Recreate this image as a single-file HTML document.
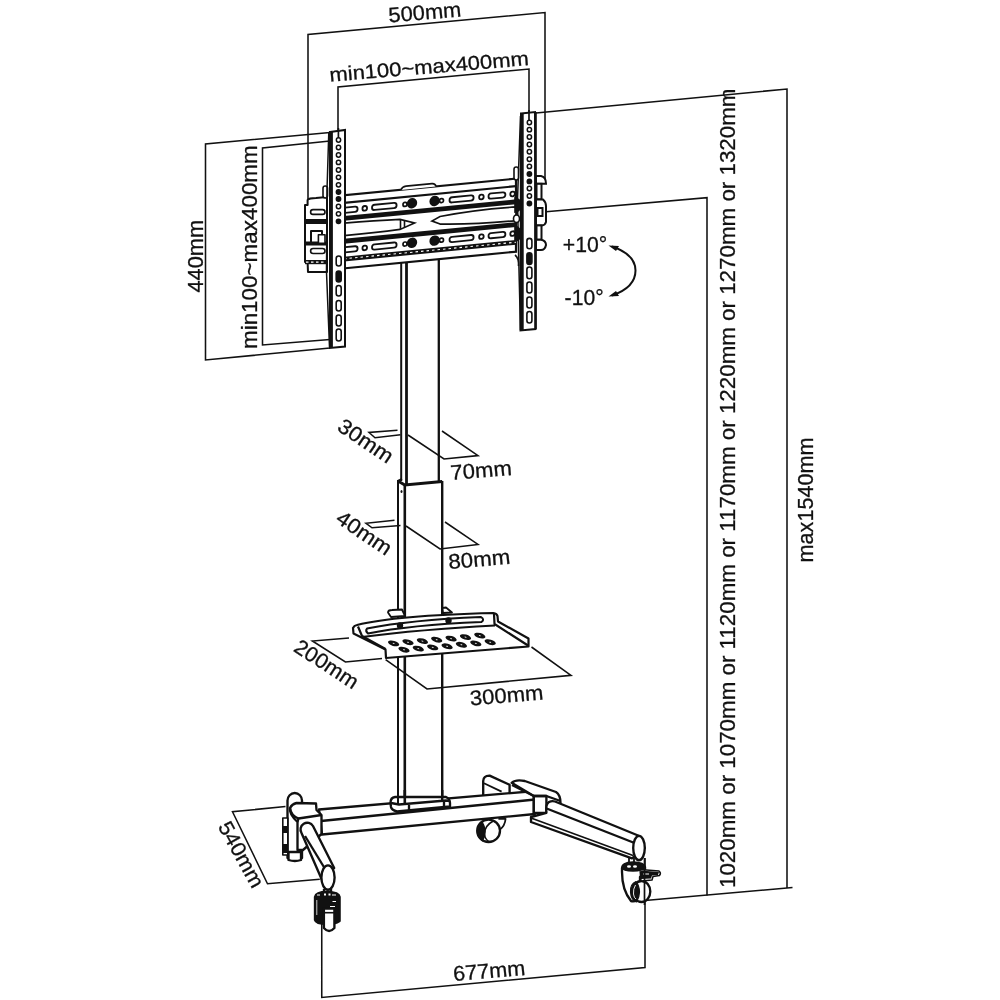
<!DOCTYPE html>
<html><head><meta charset="utf-8">
<style>
html,body{margin:0;padding:0;background:#fff;width:1000px;height:1000px;overflow:hidden}
svg{display:block;will-change:transform}
text{font-family:"Liberation Sans",sans-serif}
</style></head><body>
<svg width="1000" height="1000" viewBox="0 0 1000 1000">
<rect width="1000" height="1000" fill="#fff"/>
<g fill="none" stroke="#111" stroke-width="1.55" stroke-linejoin="miter">
<polyline points="308,205 308,34.5 545,12.5 545,180"/>
<polyline points="338,130 338,87 529,69 529,118"/>
<polyline points="330,132.5 205.5,144 205.5,360 330,348"/>
<polyline points="330,141 262.5,148 262.5,345 330,339.5"/>
<polyline points="536,113 787,89 787,888"/>
<polyline points="546,211.7 707,197.7 707,895.5"/>
<polyline points="645,900.5 792.5,887.5"/>
<polyline points="321.75,922 321.75,997.5 645,967.5 645,858"/>
<polyline points="285.5,806.5 232.5,811.75 267.5,883.75 319.8,879.25"/>
<polyline points="397.5,430.25 369,432.5 375,437.75 400.5,434.75"/>
<polyline points="408,435 444,459 478,455.6 442,431"/>
<polyline points="394.5,520.25 366,523.25 372,527.75 400.5,525.5"/>
<polyline points="406,526 440,549 478,544.4 445,522"/>
<polyline points="349,638 312.4,641 345.4,662 382,658.4"/>
<polyline points="385.6,659.6 427,689 571,675.3 531.5,647"/>
</g>
<g fill="none" stroke="#111" stroke-linecap="butt">
<line x1="401.2" y1="250" x2="401.2" y2="481" stroke-width="2"/>
<line x1="406.5" y1="250" x2="406.5" y2="484" stroke-width="2.8"/>
<line x1="438.8" y1="250" x2="438.8" y2="482" stroke-width="2.3"/>
<line x1="398" y1="480" x2="398" y2="801" stroke-width="2"/>
<line x1="404.8" y1="484" x2="404.8" y2="800" stroke-width="2.6"/>
<line x1="442.2" y1="481" x2="442.2" y2="798" stroke-width="2.4"/>
<polyline points="398,481 404.8,485 442.2,481.5" stroke-width="3"/>
<line x1="398" y1="481" x2="402" y2="479" stroke-width="2"/>
</g>
<ellipse cx="401.5" cy="491.5" rx="1" ry="1.6" fill="#111"/>
<g fill="#fff" stroke="#111" stroke-width="2.35" stroke-linejoin="round">
<path d="M483.2,797 L483.2,781 Q483.5,775.5 489.6,775.6 L509.6,784.8 L509.6,797 Z"/>
<path d="M484,783.2 L501.6,791.6" fill="none" stroke-width="1.8"/>
<path d="M319,809.5 L535,791 L535,814 L322,834.5 Z"/>
<line x1="321" y1="821" x2="535" y2="799.5"/>
<path d="M390.5,803 Q390.5,797.5 395,797 L446,797 Q450,799 450,803 L450,806.5 L397,811.5 Q391.5,810 391,807 Z"/>
<polyline points="391,803 399,804.5 446,800.5 450,801" fill="none"/>
<line x1="409" y1="805" x2="409" y2="812"/>
<line x1="444" y1="800.5" x2="444" y2="808"/>
<line x1="398" y1="790" x2="398" y2="804" stroke-width="2"/>
<line x1="404.8" y1="790" x2="404.8" y2="804" stroke-width="2.6"/>
<line x1="442.2" y1="790" x2="442.2" y2="800.5" stroke-width="2.4"/>
<path d="M498.4,818.8 L505.6,818.8 Q505,826 499.5,830" fill="none" stroke-width="1.8"/>
<ellipse cx="488.6" cy="830.8" rx="11.4" ry="11.2"/>
<path d="M482,822 Q478.5,825 478.5,832 Q479,839 482.5,841 Q485,837 485,831.5 Q485,826 482,822 Z" fill="#111" stroke-width="1.2"/>
<path d="M494,820.5 Q484,826 484.5,834 Q485,840 490,842" fill="none" stroke-width="1.6"/>
<path d="M511.6,782.8 Q516,779 524.8,781 L556,792 Q560.5,795 560.5,803 L546.4,810 L546.4,812.8 L533.8,812.8 L533.8,796 Z"/>
<rect x="533.8" y="796" width="12.6" height="16.8"/>
<path d="M512,785 L533.8,796 L546.4,796 L560.5,801" fill="none"/>
<path d="M546.4,812 Q545.5,804 549,802 Q552,800.5 555,801.5 L638.7,835.75 L644.6,848 L632,858.3 L531,822 L531,817 L546.4,812.8 Z"/>
<line x1="546.6" y1="808.5" x2="633.3" y2="842.5"/>
<line x1="531" y1="818" x2="633" y2="855.5" stroke-width="1.8"/>
<ellipse cx="639" cy="848" rx="5.8" ry="12.2"/>
<line x1="629" y1="858" x2="629" y2="866" stroke-width="1.8"/>
<line x1="634" y1="858" x2="634" y2="866" stroke-width="1.8"/>
<path d="M622,868 Q622,863 633,862.5 Q644,863 645,867 L645,873 L640,877 L640,897 Q636,902.5 631,901 Q622,890 622,872 Z"/>
<path d="M622,867.5 Q623,863 633,863 Q643,863 644.5,867 Q643,871 633,871 Q623,871 622,867.5 Z" fill="#111" stroke-width="1.5"/>
<ellipse cx="629" cy="866.5" rx="2" ry="1.3" fill="#fff" stroke="none"/>
<ellipse cx="635" cy="866.5" rx="2" ry="1.3" fill="#fff" stroke="none"/>
<ellipse cx="641.5" cy="891.5" rx="8.8" ry="10.5"/>
<path d="M636,881.5 Q630,884 630.5,892 Q631,900 636.5,902 Q639.5,897 639.5,892 Q639.5,886 636,881.5 Z" fill="#111" stroke-width="1.2"/>
<path d="M635.5,885 Q633,889 633.5,894 Q634,898 636,899" fill="none" stroke="#fff" stroke-width="0.9"/>
<path d="M640,869.5 L659,871 Q661.5,873 659.5,875.5 L653,876.5 L652,880 L641,881 Z" fill="#fff" stroke-width="1.5"/>
<path d="M641,870.5 L659,872 L658,875 L652,875.5 L651,878.5 L641,879 Z" fill="#111" stroke="none"/>
<rect x="643" y="873.5" width="6" height="1" fill="#fff" stroke="none"/>
<line x1="644.5" y1="858" x2="644.5" y2="905" stroke-width="1.7"/>
<path d="M287.5,858 L287.5,800.5 A7.25,7.5 0 0 1 302,800.5 L302,858 Q295,862 287.5,858 Z"/>
<path d="M296.5,803 L316,803.5 L316.5,810 L321.5,815 L321.5,834 L303,850 L297.5,850 L297.5,822 Q289,814 290,808 Q292,804 296.5,803 Z"/>
<path d="M297.5,822 L298.5,818.5 L321.5,815" fill="none"/>
<path d="M290,808 Q291,816 298.5,818.5" fill="none"/>
<path d="M288.5,852 L301,852 L301,860 Q295,862 288.5,860 Z"/>
<rect x="282.8" y="818" width="5" height="37" fill="#fff" stroke-width="1.6"/>
<rect x="282" y="826" width="6" height="7" fill="#111" stroke="none"/>
<rect x="282" y="844" width="6" height="9" fill="#111" stroke="none"/>
<path d="M301.5,833 A6.3,6.3 0 0 1 313,826 L334.2,868 L322,880 Z"/>
<line x1="305" y1="836" x2="324.5" y2="868"/>
<ellipse cx="328" cy="877.5" rx="6.6" ry="12.2"/>
<path d="M315,897 Q316,892 327,892 Q339,892 339.6,897 L339.6,921 Q335,924 327,924 Q316,924 315,920 Z" fill="#111"/>
<path d="M323.9,908.5 L334.4,908.5 L334.4,928 Q329,934 323.9,928 Z" fill="#fff"/>
<line x1="324" y1="912.7" x2="334.4" y2="912.7" stroke-width="1.6"/>
<rect x="324" y="893.5" width="2" height="2" fill="#fff" stroke="none"/>
<rect x="328.5" y="893.5" width="2" height="2" fill="#fff" stroke="none"/>
<rect x="317" y="894.5" width="3" height="1" fill="#fff" stroke="none"/>
<rect x="332" y="894.5" width="4" height="1" fill="#fff" stroke="none"/>
<rect x="332.5" y="901" width="3.5" height="1" fill="#fff" stroke="none"/>
<rect x="330" y="906" width="5" height="1" fill="#fff" stroke="none"/>
<line x1="316.8" y1="900" x2="316.8" y2="915" stroke="#fff" stroke-width="0.8"/>
<line x1="324" y1="889" x2="324" y2="893"/>
<line x1="331" y1="889" x2="331" y2="893"/>
</g>
<g fill="#fff" stroke="#111" stroke-width="2.2" stroke-linejoin="round">
<path d="M388,612.5 Q388,610 392,610 L402,609.5 L405,616 L391,617 Z" stroke-width="1.8"/>
<path d="M442.5,608 L446,607.5 L452,612.5 L443,613 Z" stroke-width="1.8"/>
<path d="M353,628 Q354,625.5 357,625 Q395,615.5 493.3,613 Q497,613.5 497.5,616 L498,621.5 L528.5,638.5 L528.5,646.5 L386,658 L385.5,649.5 L353.5,633.5 Z"/>
<path d="M358,626.5 L362,636 L385.5,649" fill="none"/>
<path d="M362,637 Q420,629.5 495,625.5" fill="none"/>
<path d="M494,614 L494.5,624 L528,645.5" fill="none"/>
<path d="M367,628.5 Q410,620 481,617 Q485,619.5 481.5,622 Q410,625 368,633.5 Q365,631 367,628.5 Z" fill="none" stroke-width="2"/>
</g>
<circle cx="400" cy="625.5" r="3.2" fill="#111"/>
<circle cx="448.5" cy="620.5" r="3.2" fill="#111"/>
<ellipse cx="393.6" cy="643.4" rx="5.8" ry="2.6" transform="rotate(16 393.6 643.4)" fill="#111"/>
<ellipse cx="393.6" cy="643.4" rx="1.0" ry="0.45" transform="rotate(17 393.6 643.4)" fill="#fff"/>
<ellipse cx="408" cy="642.2" rx="5.8" ry="2.6" transform="rotate(16 408 642.2)" fill="#111"/>
<ellipse cx="408" cy="642.2" rx="1.0" ry="0.45" transform="rotate(17 408 642.2)" fill="#fff"/>
<ellipse cx="422.4" cy="641.1" rx="5.8" ry="2.6" transform="rotate(16 422.4 641.1)" fill="#111"/>
<ellipse cx="422.4" cy="641.1" rx="1.0" ry="0.45" transform="rotate(17 422.4 641.1)" fill="#fff"/>
<ellipse cx="436.7" cy="639.7" rx="5.8" ry="2.6" transform="rotate(16 436.7 639.7)" fill="#111"/>
<ellipse cx="436.7" cy="639.7" rx="1.0" ry="0.45" transform="rotate(17 436.7 639.7)" fill="#fff"/>
<ellipse cx="451.1" cy="638.6" rx="5.8" ry="2.6" transform="rotate(16 451.1 638.6)" fill="#111"/>
<ellipse cx="451.1" cy="638.6" rx="1.0" ry="0.45" transform="rotate(17 451.1 638.6)" fill="#fff"/>
<ellipse cx="465.5" cy="637.1" rx="5.8" ry="2.6" transform="rotate(16 465.5 637.1)" fill="#111"/>
<ellipse cx="465.5" cy="637.1" rx="1.0" ry="0.45" transform="rotate(17 465.5 637.1)" fill="#fff"/>
<ellipse cx="479.8" cy="635.6" rx="5.8" ry="2.6" transform="rotate(16 479.8 635.6)" fill="#111"/>
<ellipse cx="479.8" cy="635.6" rx="1.0" ry="0.45" transform="rotate(17 479.8 635.6)" fill="#fff"/>
<ellipse cx="404" cy="649.7" rx="5.8" ry="2.6" transform="rotate(16 404 649.7)" fill="#111"/>
<ellipse cx="404" cy="649.7" rx="1.0" ry="0.45" transform="rotate(17 404 649.7)" fill="#fff"/>
<ellipse cx="418.3" cy="648.6" rx="5.8" ry="2.6" transform="rotate(16 418.3 648.6)" fill="#111"/>
<ellipse cx="418.3" cy="648.6" rx="1.0" ry="0.45" transform="rotate(17 418.3 648.6)" fill="#fff"/>
<ellipse cx="432.7" cy="647.4" rx="5.8" ry="2.6" transform="rotate(16 432.7 647.4)" fill="#111"/>
<ellipse cx="432.7" cy="647.4" rx="1.0" ry="0.45" transform="rotate(17 432.7 647.4)" fill="#fff"/>
<ellipse cx="447.1" cy="646.3" rx="5.8" ry="2.6" transform="rotate(16 447.1 646.3)" fill="#111"/>
<ellipse cx="447.1" cy="646.3" rx="1.0" ry="0.45" transform="rotate(17 447.1 646.3)" fill="#fff"/>
<ellipse cx="461.4" cy="644.8" rx="5.8" ry="2.6" transform="rotate(16 461.4 644.8)" fill="#111"/>
<ellipse cx="461.4" cy="644.8" rx="1.0" ry="0.45" transform="rotate(17 461.4 644.8)" fill="#fff"/>
<ellipse cx="475.8" cy="643.4" rx="5.8" ry="2.6" transform="rotate(16 475.8 643.4)" fill="#111"/>
<ellipse cx="475.8" cy="643.4" rx="1.0" ry="0.45" transform="rotate(17 475.8 643.4)" fill="#fff"/>
<ellipse cx="490.2" cy="642.2" rx="5.8" ry="2.6" transform="rotate(16 490.2 642.2)" fill="#111"/>
<ellipse cx="490.2" cy="642.2" rx="1.0" ry="0.45" transform="rotate(17 490.2 642.2)" fill="#fff"/>
<g fill="#fff" stroke="#111" stroke-width="2" stroke-linejoin="round">
<path d="M305,205 L307.6,205 L307.6,200 Q309,198 316,198 L327,197 L327,272 L308,272 L307.6,262 L305,262 Z"/>
<rect x="310.6" y="209.6" width="14.4" height="4.8" rx="2.4" stroke-width="1.6"/>
<rect x="310.6" y="248.5" width="14.4" height="5" rx="2.5" stroke-width="1.6"/>
<rect x="305" y="219" width="22" height="5" fill="#111" stroke="none"/>
<rect x="305" y="241.5" width="22" height="4" fill="#111" stroke="none"/>
<path d="M311,231 L322,231 L322,243 L311,243 Z" fill="none"/>
<rect x="318.4" y="234.8" width="6.6" height="8.4" fill="#fff" stroke-width="1.6"/>
<rect x="305" y="260" width="22" height="4.2" fill="#111" stroke="none"/>
<line x1="306" y1="262.1" x2="327" y2="262.1" stroke="#fff" stroke-dasharray="2.5,2.5" stroke-width="1.1"/>
<rect x="323" y="186" width="4.5" height="12" rx="2.2" stroke-width="1.6"/>
</g>
<g transform="translate(0,34.2) skewY(-5.54)">
<g fill="#fff" stroke="#111" stroke-width="2.2">
<rect x="344" y="194.5" width="172" height="73"/>
</g>
<g fill="none" stroke="#111" stroke-width="2.2">
<line x1="344" y1="202" x2="516" y2="202"/>
</g>
<rect x="344" y="255.8" width="172" height="4.8" fill="#111"/>
<line x1="344" y1="258" x2="516" y2="258" stroke="#fff" stroke-width="1.1" stroke-dasharray="2.5,3"/>
<rect x="344" y="215.2" width="172" height="4.8" fill="#111"/>
<rect x="344" y="238" width="172" height="4.8" fill="#111"/>
<path d="M344,222.3 Q375,222.8 400,224 L414.5,229 L400,234 Q375,235.2 344,234.7 Z" fill="#fff" stroke="#111" stroke-width="1.7"/>
<line x1="400.5" y1="224.5" x2="400.5" y2="233.5" stroke="#111" stroke-width="1.6"/>
<line x1="404.5" y1="225.5" x2="404.5" y2="232.5" stroke="#111" stroke-width="1.6"/>
<path d="M516,222.8 Q475,221.5 440,225 L432,228.8 L440,232.5 Q475,236.5 516,236.5 Z" fill="#fff" stroke="#111" stroke-width="1.7"/>
<rect x="340" y="206.9" width="17.600000000000023" height="5.2" rx="2.6" fill="#fff" stroke="#111" stroke-width="1.8"/>
<rect x="372" y="206.9" width="24.600000000000023" height="5.2" rx="2.6" fill="#fff" stroke="#111" stroke-width="1.8"/>
<rect x="449.5" y="206.9" width="24.100000000000023" height="5.2" rx="2.6" fill="#fff" stroke="#111" stroke-width="1.8"/>
<rect x="488.5" y="206.9" width="16.899999999999977" height="5.2" rx="2.6" fill="#fff" stroke="#111" stroke-width="1.8"/>
<circle cx="364.75" cy="209.5" r="2.3" fill="#fff" stroke="#111" stroke-width="1.8"/>
<circle cx="481.4" cy="209.5" r="2.3" fill="#fff" stroke="#111" stroke-width="1.8"/>
<circle cx="512.6" cy="209.5" r="2.3" fill="#fff" stroke="#111" stroke-width="1.8"/>
<circle cx="405" cy="209.5" r="2" fill="#fff" stroke="#111" stroke-width="1.7"/>
<circle cx="441.5" cy="209.2" r="2" fill="#fff" stroke="#111" stroke-width="1.7"/>
<circle cx="412" cy="209.0" r="5.2" fill="#111"/>
<circle cx="434.6" cy="209.0" r="5.2" fill="#111"/>
<rect x="340" y="246.5" width="17.600000000000023" height="5.2" rx="2.6" fill="#fff" stroke="#111" stroke-width="1.8"/>
<rect x="372" y="246.5" width="24.600000000000023" height="5.2" rx="2.6" fill="#fff" stroke="#111" stroke-width="1.8"/>
<rect x="449.5" y="246.5" width="24.100000000000023" height="5.2" rx="2.6" fill="#fff" stroke="#111" stroke-width="1.8"/>
<rect x="488.5" y="246.5" width="16.899999999999977" height="5.2" rx="2.6" fill="#fff" stroke="#111" stroke-width="1.8"/>
<circle cx="364.75" cy="249.1" r="2.3" fill="#fff" stroke="#111" stroke-width="1.8"/>
<circle cx="481.4" cy="249.1" r="2.3" fill="#fff" stroke="#111" stroke-width="1.8"/>
<circle cx="512.6" cy="249.1" r="2.3" fill="#fff" stroke="#111" stroke-width="1.8"/>
<circle cx="405" cy="249.1" r="2" fill="#fff" stroke="#111" stroke-width="1.7"/>
<circle cx="441.5" cy="248.79999999999998" r="2" fill="#fff" stroke="#111" stroke-width="1.7"/>
<circle cx="412" cy="248.6" r="5.2" fill="#111"/>
<circle cx="434.6" cy="248.6" r="5.2" fill="#111"/>
<path d="M401,194.6 Q402,191.5 406,191.3 L432,191.3 Q435.5,191.5 436,194.6" fill="#fff" stroke="#111" stroke-width="1.6"/>
</g>
<g fill="#fff" stroke="#111" stroke-width="2" stroke-linejoin="miter">
<path d="M328.8,132 L327,190 L326.5,272 L329.5,347" fill="none" stroke-width="1.5"/>
<path d="M330,132 L345,130 L345,346.5 L330,348 Z"/>
</g>
<line x1="331.3" y1="132" x2="331.3" y2="348" stroke="#111" stroke-width="3.2"/>
<circle cx="338.5" cy="140" r="2.15" fill="#fff" stroke="#111" stroke-width="1.5"/>
<circle cx="338.5" cy="147.5" r="2.15" fill="#fff" stroke="#111" stroke-width="1.5"/>
<circle cx="338.5" cy="155" r="2.15" fill="#fff" stroke="#111" stroke-width="1.5"/>
<circle cx="338.5" cy="162.4" r="2.15" fill="#fff" stroke="#111" stroke-width="1.5"/>
<circle cx="338.5" cy="170" r="2.15" fill="#fff" stroke="#111" stroke-width="1.5"/>
<circle cx="338.5" cy="177.3" r="2.15" fill="#fff" stroke="#111" stroke-width="1.5"/>
<circle cx="338.5" cy="184.8" r="2.15" fill="#fff" stroke="#111" stroke-width="1.5"/>
<circle cx="338.5" cy="192" r="2.15" fill="#111" stroke="#111" stroke-width="1.5"/>
<circle cx="338.5" cy="199" r="2.15" fill="#111" stroke="#111" stroke-width="1.5"/>
<circle cx="338.5" cy="206.5" r="2.15" fill="#fff" stroke="#111" stroke-width="1.5"/>
<circle cx="338.5" cy="213.8" r="2.15" fill="#fff" stroke="#111" stroke-width="1.5"/>
<circle cx="338.5" cy="221.3" r="2.15" fill="#111" stroke="#111" stroke-width="1.5"/>
<rect x="336.2" y="256" width="5" height="10" rx="2.5" fill="#fff" stroke="#111" stroke-width="1.6"/>
<rect x="336.2" y="271" width="5" height="11" rx="2.5" fill="#111" stroke="#111" stroke-width="1.6"/>
<rect x="336.2" y="285.5" width="5" height="10.5" rx="2.5" fill="#fff" stroke="#111" stroke-width="1.6"/>
<rect x="336.2" y="300.5" width="5" height="10.5" rx="2.5" fill="#fff" stroke="#111" stroke-width="1.6"/>
<rect x="336.2" y="315" width="5" height="11" rx="2.5" fill="#fff" stroke="#111" stroke-width="1.6"/>
<rect x="336.2" y="329" width="5" height="12" rx="2.5" fill="#fff" stroke="#111" stroke-width="1.6"/>
<g fill="#fff" stroke="#111" stroke-width="2" stroke-linejoin="miter">
<path d="M520.5,116 L517.5,200 L518.5,250 L520.5,330" fill="none" stroke-width="1.5"/>
<path d="M521,113.5 L535,112 L535.5,329 L520.5,330.5 Z"/>
</g>
<line x1="522" y1="113.5" x2="522" y2="330.5" stroke="#111" stroke-width="3.4"/>
<line x1="535.6" y1="112" x2="535.6" y2="329" stroke="#111" stroke-width="2.4"/>
<circle cx="529.4" cy="122.5" r="2.15" fill="#fff" stroke="#111" stroke-width="1.5"/>
<circle cx="529.4" cy="129.7" r="2.15" fill="#fff" stroke="#111" stroke-width="1.5"/>
<circle cx="529.4" cy="137" r="2.15" fill="#fff" stroke="#111" stroke-width="1.5"/>
<circle cx="529.4" cy="144.5" r="2.15" fill="#fff" stroke="#111" stroke-width="1.5"/>
<circle cx="529.4" cy="151.75" r="2.15" fill="#fff" stroke="#111" stroke-width="1.5"/>
<circle cx="529.4" cy="159.25" r="2.15" fill="#fff" stroke="#111" stroke-width="1.5"/>
<circle cx="529.4" cy="166.4" r="2.15" fill="#fff" stroke="#111" stroke-width="1.5"/>
<circle cx="529.4" cy="174" r="2.15" fill="#111" stroke="#111" stroke-width="1.5"/>
<circle cx="529.4" cy="181.4" r="2.15" fill="#111" stroke="#111" stroke-width="1.5"/>
<circle cx="529.4" cy="188.5" r="2.15" fill="#fff" stroke="#111" stroke-width="1.5"/>
<circle cx="529.4" cy="196" r="2.15" fill="#fff" stroke="#111" stroke-width="1.5"/>
<circle cx="529.4" cy="203.5" r="2.15" fill="#111" stroke="#111" stroke-width="1.5"/>
<rect x="526.9" y="238.4" width="5" height="10.400000000000006" rx="2.5" fill="#fff" stroke="#111" stroke-width="1.6"/>
<rect x="526.9" y="252.7" width="5" height="11.699999999999989" rx="2.5" fill="#111" stroke="#111" stroke-width="1.6"/>
<rect x="526.9" y="267" width="5" height="11.699999999999989" rx="2.5" fill="#fff" stroke="#111" stroke-width="1.6"/>
<rect x="526.9" y="282" width="5" height="11" rx="2.5" fill="#fff" stroke="#111" stroke-width="1.6"/>
<rect x="526.9" y="297" width="5" height="11" rx="2.5" fill="#fff" stroke="#111" stroke-width="1.6"/>
<rect x="526.9" y="311.5" width="5" height="11.5" rx="2.5" fill="#fff" stroke="#111" stroke-width="1.6"/>
<line x1="338.4" y1="128" x2="338.4" y2="138" stroke="#111" stroke-width="1.7"/>
<line x1="529" y1="110" x2="529" y2="120.5" stroke="#111" stroke-width="1.7"/>
<g fill="#fff" stroke="#111" stroke-width="1.6">
<rect x="514" y="167" width="4.5" height="13" rx="2.2"/>
<path d="M515,198 Q521,199 521,205 Q521,211 515,212 Z" fill="#111"/>
<ellipse cx="516.5" cy="218.8" rx="3" ry="3.8"/>
<path d="M515,226 Q521,228 521,234 Q521,240 515,241 Z" fill="#111"/>
<path d="M515,255 Q519,258 518.5,266" fill="none"/>
</g>
<g fill="#fff" stroke="#111" stroke-width="2">
<path d="M536,176 L541,176 Q546,177 546,183.8 L536,183.8 Z"/>
<rect x="536.5" y="183.8" width="5" height="15.6"/>
<path d="M536,199.4 L543,199.4 Q546,202 546,206 L546,222 Q545,225.4 542,225.4 L536,225.4 Z"/>
<rect x="537.5" y="208" width="5" height="8" fill="#fff"/>
<rect x="536.5" y="225.4" width="5" height="14.3"/>
<path d="M536,239.7 L541,239.7 Q546,240.5 546,245 Q545,250 541,250 L536,250 Z"/>
</g>
<path d="M612,246.5 C628,252 635.5,260 635.5,270.5 C635.5,281 628,290 612,295.5" fill="none" stroke="#111" stroke-width="2"/>
<path d="M608.5,245.5 L619,246 L616,251 Z" fill="#111"/>
<path d="M608.5,296.5 L619,296 L616,291 Z" fill="#111"/>
<g fill="#111" stroke="#111" stroke-width="0.3">
<text x="389" y="22.5" font-size="21" textLength="73" lengthAdjust="spacingAndGlyphs" transform="rotate(-4.8 389 22.5)">500mm</text>
<text x="330" y="81.8" font-size="20" textLength="200" lengthAdjust="spacingAndGlyphs" transform="rotate(-4.8 330 81.8)">min100~max400mm</text>
<text x="202.5" y="292.5" font-size="22" textLength="72.5" lengthAdjust="spacingAndGlyphs" transform="rotate(-90 202.5 292.5)">440mm</text>
<text x="257.4" y="349" font-size="22" textLength="203.75" lengthAdjust="spacingAndGlyphs" transform="rotate(-90 257.4 349)">min100~max400mm</text>
<text x="734.7" y="888" font-size="22" textLength="799.5" lengthAdjust="spacingAndGlyphs" transform="rotate(-90 734.7 888)">1020mm or 1070mm or 1120mm or 1170mm or 1220mm or 1270mm or 1320mm</text>
<text x="813.5" y="562.4" font-size="22" textLength="124.8" lengthAdjust="spacingAndGlyphs" transform="rotate(-90 813.5 562.4)">max1540mm</text>
<text x="562.8" y="252" font-size="22" textLength="44.4" lengthAdjust="spacingAndGlyphs">+10°</text>
<text x="564.6" y="304.8" font-size="22" textLength="39" lengthAdjust="spacingAndGlyphs">-10°</text>
<text x="451" y="480" font-size="21" textLength="61.5" lengthAdjust="spacingAndGlyphs" transform="rotate(-4.8 451 480)">70mm</text>
<text x="449" y="569" font-size="21" textLength="62" lengthAdjust="spacingAndGlyphs" transform="rotate(-4.8 449 569)">80mm</text>
<text x="470.5" y="705.5" font-size="21" textLength="73.5" lengthAdjust="spacingAndGlyphs" transform="rotate(-4.8 470.5 705.5)">300mm</text>
<text x="453.75" y="981" font-size="21" textLength="72.25" lengthAdjust="spacingAndGlyphs" transform="rotate(-4.8 453.75 981)">677mm</text>
<text x="336" y="429.5" font-size="21" textLength="62" lengthAdjust="spacingAndGlyphs" transform="rotate(34 336 429.5)">30mm</text>
<text x="334.5" y="521.5" font-size="21" textLength="62" lengthAdjust="spacingAndGlyphs" transform="rotate(34 334.5 521.5)">40mm</text>
<text x="292.5" y="650.5" font-size="21" textLength="72" lengthAdjust="spacingAndGlyphs" transform="rotate(33 292.5 650.5)">200mm</text>
<text x="217.5" y="826.5" font-size="21" textLength="72" lengthAdjust="spacingAndGlyphs" transform="rotate(61 217.5 826.5)">540mm</text>
</g>
</svg>
</body></html>
